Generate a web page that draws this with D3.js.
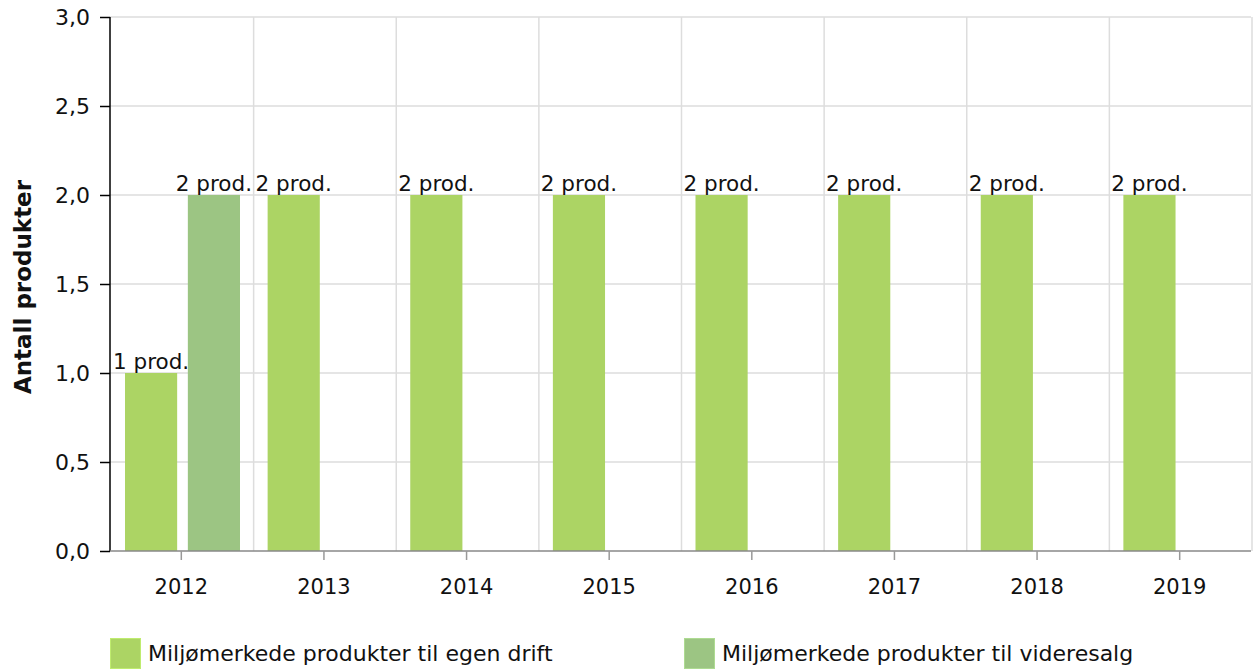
<!DOCTYPE html>
<html>
    <head>
        <meta charset="utf-8">
        <title>Antall produkter</title>
        <style type="text/css">
            body {
                margin: 0;
                background-color: #ffffff;
            }
            svg {
                font-family: "DejaVu Sans", Verdana, sans-serif;
            }
            .grid line {
                stroke: #dddddd;
                stroke-width: 1.5;
            }
        </style>
        <script src="https://d3js.org/d3.v7.min.js"></script>
    </head>
    <body>
        <svg id="chart" width="1253" height="670"></svg>
        <script>
            const years = ["2012", "2013", "2014", "2015", "2016", "2017", "2018", "2019"];
            const seriesNames = ["Miljømerkede produkter til egen drift", "Miljømerkede produkter til videresalg"];
            const egenDrift = [1, 2, 2, 2, 2, 2, 2, 2];
            const videresalg = [2, null, null, null, null, null, null, null];
            const yTicks = [0, 0.5, 1, 1.5, 2, 2.5, 3];
            const colours = ["#acd464", "#9cc583"];

            const svg = d3.select("#chart");
            const plotLeft = 110, plotRight = 1251, plotTop = 17, plotBottom = 551;

            const x = d3.scaleBand().domain(years).range([plotLeft, plotRight]);
            const x1 = d3.scaleBand().domain([0, 1]).range([15, 130]).paddingInner(0.17);
            const y = d3.scaleLinear().domain([0, 3]).range([plotBottom, plotTop]);

            const nbLocale = d3.formatLocale({decimal: ",", thousands: " ", grouping: [3], currency: ["", " kr"]});
            const fmt = nbLocale.format(".1f");

            // grid
            const grid = svg.append("g").attr("class", "grid");
            grid.selectAll("line.h")
                .data(yTicks.filter(d => d > 0))
                .join("line")
                .attr("class", "h")
                .attr("x1", plotLeft).attr("x2", plotRight)
                .attr("y1", d => y(d)).attr("y2", d => y(d));
            grid.selectAll("line.v")
                .data(years)
                .join("line")
                .attr("class", "v")
                .attr("x1", d => x(d) + x.bandwidth() + 1)
                .attr("x2", d => x(d) + x.bandwidth() + 1)
                .attr("y1", plotTop).attr("y2", plotBottom);

            // bars
            const rows = years.map((yr, i) => ({year: yr, values: [egenDrift[i], videresalg[i]]}));
            const groups = svg.append("g").selectAll("g")
                .data(rows)
                .join("g")
                .attr("transform", d => `translate(${x(d.year)},0)`);

            const bars = groups.selectAll("g")
                .data(d => d.values.map((v, k) => ({k: k, v: v})).filter(e => e.v !== null))
                .join("g");

            bars.append("rect")
                .attr("x", d => x1(d.k))
                .attr("width", x1.bandwidth())
                .attr("y", d => y(d.v))
                .attr("height", d => y(0) - y(d.v))
                .attr("fill", d => colours[d.k]);

            bars.append("text")
                .attr("x", d => x1(d.k) + x1.bandwidth() / 2)
                .attr("y", d => y(d.v) - 4)
                .attr("text-anchor", "middle")
                .attr("font-size", 21.5)
                .attr("fill", "#111")
                .text(d => `${d.v} prod.`);

            // y axis
            const yAxis = svg.append("g")
                .attr("transform", `translate(${plotLeft},0)`)
                .call(d3.axisLeft(y).tickValues(yTicks).tickFormat(fmt).tickSize(10).tickPadding(10));
            yAxis.select(".domain").attr("stroke", "#000").attr("stroke-width", 1.5).attr("d", `M0,${plotTop}V${plotBottom}`);
            yAxis.selectAll(".tick line").attr("stroke", "#000").attr("stroke-width", 1.5);
            yAxis.selectAll(".tick text").attr("font-size", 22).attr("font-family", "DejaVu Sans").attr("fill", "#111");

            // x axis
            const xAxis = svg.append("g")
                .attr("transform", `translate(0,${plotBottom})`)
                .call(d3.axisBottom(x).tickSize(9).tickPadding(19));
            xAxis.select(".domain").attr("stroke", "#888").attr("stroke-width", 1.5).attr("d", `M${plotLeft},0H${plotRight}`);
            xAxis.selectAll(".tick line").attr("stroke", "#999").attr("stroke-width", 1.5);
            xAxis.selectAll(".tick text").attr("font-size", 21).attr("font-family", "DejaVu Sans").attr("fill", "#111");

            // y title
            svg.append("text")
                .attr("transform", `translate(31,${(plotTop + plotBottom) / 2 + 3}) rotate(-90)`)
                .attr("text-anchor", "middle")
                .attr("font-size", 23)
                .attr("font-weight", "bold")
                .attr("fill", "#111")
                .text("Antall produkter");

            // legend
            const legendX = [110, 684];
            const legend = svg.append("g").selectAll("g")
                .data(seriesNames)
                .join("g")
                .attr("transform", (d, i) => `translate(${legendX[i]},638)`);
            legend.append("rect")
                .attr("x", 0.5).attr("y", 0.5)
                .attr("width", 30).attr("height", 30)
                .attr("fill", (d, i) => colours[i])
                .attr("stroke", (d, i) => d3.color(colours[i]).brighter(0.3))
                .attr("stroke-width", 1);
            legend.append("text")
                .attr("x", 38)
                .attr("y", 23)
                .attr("font-size", 22)
                .attr("fill", "#111")
                .text(d => d);
        </script>
    </body>
</html>
